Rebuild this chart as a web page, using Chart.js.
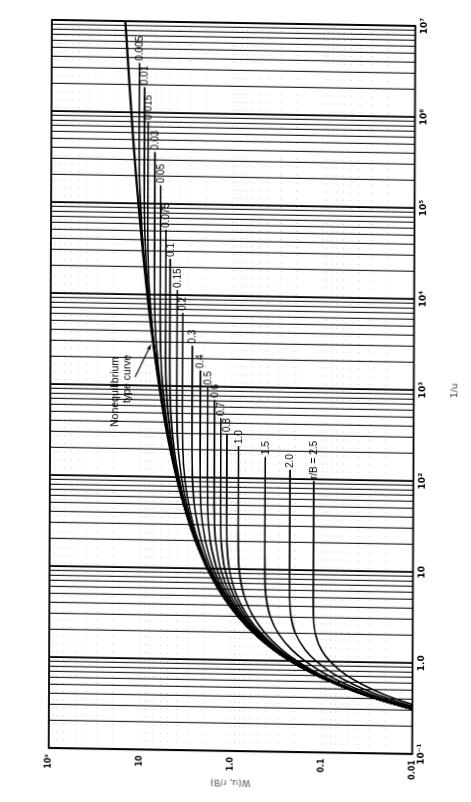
<!DOCTYPE html>
<html><head><meta charset="utf-8">
<script src="https://cdn.jsdelivr.net/npm/chart.js@4/dist/chart.umd.min.js"></script>
<style>
html,body{margin:0;padding:0;background:#fff;overflow:hidden;width:471px;height:802px;}
#wrap{position:absolute;left:0;top:0;width:802px;height:471px;transform-origin:0 0;
transform:skew(-0.25deg,0.95deg) translateY(802px) rotate(-90deg);background:#fff;}
canvas{display:block;}
</style></head><body>
<div id="wrap"><canvas id="c" width="802" height="471"></canvas></div>
<script>
// 1/u sample points
const invU = [0.3,0.4,0.5,0.667,0.8,1,1.333,2,3,5,10,20,30,50,100,200,500,1e3,2e3,5e3,1e4,2e4,5e4,1e5,2e5,5e5,1e6,2e6,5e6,1e7];
// Nonequilibrium (Theis) type curve W(u)
const theisW = [0.008573,0.024915,0.0489,0.10002,0.1464,0.2194,0.34034,0.5598,0.8292,1.2227,1.8229,2.4679,2.857,3.3547,4.0379,4.7261,5.6394,6.3315,7.0242,7.9402,8.6332,9.3263,10.2426,10.9357,11.6289,12.5451,13.2383,13.9314,14.8477,15.5409];
// Leaky W(u, r/B) curves
const w0005 = [0.008573,0.024915,0.0489,0.10002,0.1464,0.2194,0.34034,0.5598,0.8292,1.2227,1.8229,2.4679,2.857,3.3547,4.0373,4.725,5.636,6.325,7.012,7.909,8.572,9.205,9.953,10.396,10.682,10.818,10.828,10.829,null,null];
const w001 = [0.008573,0.024915,0.0489,0.10002,0.1464,0.2194,0.34034,0.5598,0.8292,1.2227,1.8229,2.4679,2.857,3.3536,4.0355,4.7212,5.627,6.307,6.975,7.819,8.398,8.883,9.296,9.418,9.441,9.4425,9.4425,null,null,null];
const w0015 = [0.008573,0.024915,0.0489,0.10002,0.1464,0.2194,0.34034,0.5598,0.8292,1.2227,1.8229,2.4679,2.857,3.352,4.0326,4.7151,5.6116,6.2768,6.9155,7.6781,8.1417,8.4533,8.6154,8.6314,8.632,8.632,null,null,null,null];
const w003 = [0.008573,0.024915,0.0489,0.10002,0.1464,0.2194,0.34034,0.5598,0.8289,1.2221,1.8213,2.4642,2.8511,3.3444,4.0165,4.6825,5.5314,6.1203,6.6219,7.0683,7.2123,7.2449,7.247,7.247,7.247,null,null,null,null,null];
const w005 = [0.008573,0.024915,0.0489,0.10002,0.1464,0.2192,0.3402,0.5594,0.8284,1.2209,1.8184,2.4576,2.8408,3.3262,3.9796,4.6084,5.3538,5.7966,6.0821,6.2174,6.2282,6.2285,6.2285,6.2285,null,null,null,null,null,null];
const w0075 = [0.00857,0.0249,0.04887,0.09995,0.14628,0.2192,0.33993,0.5589,0.8273,1.2187,1.8127,2.4448,2.8206,3.2917,3.9092,4.4713,5.0497,5.3076,5.4062,5.4227,5.4228,5.4228,5.4228,null,null,null,null,null,null,null];
const w01 = [0.00857,0.02489,0.04885,0.0999,0.1462,0.219,0.3396,0.5582,0.8259,1.2155,1.8049,2.4271,2.7929,3.2443,3.815,4.2959,4.7079,4.8292,4.853,4.8541,4.8541,4.8541,null,null,null,null,null,null,null,null];
const w015 = [0.00856,0.02487,0.0488,0.09975,0.14593,0.2186,0.3387,0.5561,0.8218,1.2067,1.7829,2.3776,2.7164,3.1158,3.5727,3.882,4.0435,4.0595,4.0601,4.0601,4.0601,null,null,null,null,null,null,null,null,null];
const w02 = [0.00855,0.02484,0.04871,0.09953,0.14557,0.2179,0.33746,0.5533,0.8161,1.1944,1.7527,2.311,2.615,2.9521,3.2875,3.4567,3.5042,3.5054,3.5054,3.5054,null,null,null,null,null,null,null,null,null,null];
const w03 = [0.008525,0.024737,0.04848,0.09893,0.14455,0.2161,0.3339,0.5453,0.8001,1.1603,1.6703,2.137,2.359,2.5687,2.7105,2.7428,2.7449,2.7449,2.7449,null,null,null,null,null,null,null,null,null,null,null];
const w04 = [0.008488,0.024598,0.04816,0.09809,0.14313,0.2135,0.32898,0.5344,0.7784,1.1146,1.5643,1.9284,2.0743,2.181,2.2254,2.2291,2.2291,2.2291,null,null,null,null,null,null,null,null,null,null,null,null];
const w05 = [0.00844,0.024425,0.04774,0.09702,0.14132,0.2103,0.32277,0.5206,0.7515,1.0593,1.4422,1.7075,1.7922,1.8378,1.8485,1.8488,1.8488,null,null,null,null,null,null,null,null,null,null,null,null,null];
const w06 = [0.008384,0.024213,0.04724,0.09573,0.13915,0.2065,0.31537,0.5044,0.7199,0.9963,1.3114,1.4927,1.5363,1.5529,1.555,1.555,1.555,null,null,null,null,null,null,null,null,null,null,null,null,null];
const w07 = [0.008317,0.023965,0.04666,0.09423,0.13662,0.202,0.30686,0.486,0.6849,0.9285,1.179,1.2954,1.3155,1.3207,1.321,1.321,null,null,null,null,null,null,null,null,null,null,null,null,null,null];
const w08 = [0.00824,0.02368,0.04599,0.09254,0.13377,0.197,0.29736,0.4658,0.647,0.8575,1.0505,1.121,1.1293,1.1307,1.1307,1.1307,null,null,null,null,null,null,null,null,null,null,null,null,null,null];
const w10 = [0.008058,0.023014,0.04444,0.08859,0.12719,0.1855,0.27576,0.421,0.5662,0.7148,0.819,0.8409,0.8419,0.842,0.842,0.842,null,null,null,null,null,null,null,null,null,null,null,null,null,null];
const w15 = [0.007459,0.020848,0.039448,0.07622,0.10691,0.1509,0.2138,0.3006,0.3682,0.4135,0.4271,0.4276,0.4276,0.4276,0.4276,null,null,null,null,null,null,null,null,null,null,null,null,null,null,null];
const w20 = [0.006695,0.018165,0.03343,0.06191,0.08417,0.1139,0.1515,0.1944,0.2179,0.2268,0.2278,0.2278,0.2278,0.2278,0.2278,null,null,null,null,null,null,null,null,null,null,null,null,null,null,null];
const w25 = [0.005831,0.015232,0.027075,0.04759,0.0623,0.0802,0.1002,0.1173,0.1235,0.1247,0.1247,0.1247,0.1247,0.1247,null,null,null,null,null,null,null,null,null,null,null,null,null,null,null,null];
// r/B curve labels and the 1/u where each curve stops (label starts)
const rBLabels = ['0.005','0.01','0.015','0.03','0.05','0.075','0.1','0.15','0.2','0.3','0.4','0.5','0.6','0.7','0.8','1.0','1.5','2.0','r/B = 2.5'];
const curveEnd = [3.5e6,1.9e6,7.9e5,3.7e5,1.6e5,5.2e4,2.5e4,1.14e4,6.4e3,2.8e3,1.5e3,990,716,455,304,225,173,126,96];
// tick labels at decades
const xDecadeLabels = ['10\u207B\u00B9','1.0','10','10\u00B2','10\u00B3','10\u2074','10\u2075','10\u2076','10\u2077'];
const yDecadeLabels = ['0.01','0.1','1.0','10','10\u00B2'];
// annotation
const noteLines = ['Nonequilibrium','type curve'];
const noteInvU = [347, 637];
const noteW = [19.4, 14.0];
const arrowFrom = [1236, 11.7];
const arrowTo = [2800, 7.9];

const leakyW = [w0005,w001,w0015,w003,w005,w0075,w01,w015,w02,w03,w04,w05,w06,w07,w08,w10,w15,w20,w25];

function seriesPoints(ws, end){
  const pts=[]; let last=null;
  invU.forEach((u,k)=>{ const w=ws[k]; if(w!=null && (end==null || u<end)){ pts.push({x:u,y:w}); last=w; } });
  if(end!=null) pts.push({x:end,y:last});
  return pts;
}
const datasets = [];
const asym = [];
leakyW.forEach((ws,i)=>{
  const pts = seriesPoints(ws, curveEnd[i]);
  asym.push(pts[pts.length-1].y);
  datasets.push({label:'r/B='+rBLabels[i], data:pts, borderColor:'#000', borderWidth:1.6, pointRadius:0, cubicInterpolationMode:'monotone', fill:false});
});
datasets.push({label:'Theis', data:seriesPoints(theisW,null), borderColor:'#000', borderWidth:2.3, pointRadius:0, cubicInterpolationMode:'monotone', fill:false});

const xTicks=[]; for(let n=-1;n<=6;n++){ for(let m=1;m<=9;m++) xTicks.push(m*Math.pow(10,n)); } xTicks.push(1e7);
const yTicks=[]; for(let n=-2;n<=1;n++){ for(let m=1;m<=9;m++) yTicks.push(m*Math.pow(10,n)); } yTicks.push(100);
function decadeIndex(v){ const l=Math.log10(v); return Math.abs(l-Math.round(l))<1e-6 ? Math.round(l) : null; }

const annot = {
  id:'annot',
  afterDatasetsDraw(chart){
    const {ctx, chartArea:a, scales:{x,y}} = chart;
    ctx.save();
    ctx.fillStyle='#000';
    ctx.font='10px "Liberation Sans", Arial, sans-serif';
    ctx.textAlign='left'; ctx.textBaseline='middle';
    rBLabels.forEach((t,i)=>{
      ctx.fillText(t, x.getPixelForValue(curveEnd[i])+2, y.getPixelForValue(asym[i])+0.5);
    });
    ctx.font='10.5px "Liberation Sans", Arial, sans-serif';
    noteLines.forEach((t,i)=>{ ctx.fillText(t, x.getPixelForValue(noteInvU[i]), y.getPixelForValue(noteW[i])); });
    const x1=x.getPixelForValue(arrowFrom[0]), y1=y.getPixelForValue(arrowFrom[1]);
    const x2=x.getPixelForValue(arrowTo[0]), y2=y.getPixelForValue(arrowTo[1]);
    ctx.strokeStyle='#000'; ctx.lineWidth=1.1;
    ctx.beginPath(); ctx.moveTo(x1,y1); ctx.lineTo(x2,y2); ctx.stroke();
    const ang=Math.atan2(y2-y1,x2-x1), h=5;
    ctx.beginPath(); ctx.moveTo(x2,y2);
    ctx.lineTo(x2-h*Math.cos(ang-0.4), y2-h*Math.sin(ang-0.4));
    ctx.lineTo(x2-h*Math.cos(ang+0.4), y2-h*Math.sin(ang+0.4));
    ctx.closePath(); ctx.fill();
    ctx.strokeStyle='#000'; ctx.lineWidth=1.8;
    ctx.strokeRect(a.left, a.top, a.right-a.left, a.bottom-a.top);
    ctx.restore();
  }
};

new Chart(document.getElementById('c'), {
  type:'line',
  data:{datasets},
  plugins:[annot],
  options:{
    responsive:false, animation:false, devicePixelRatio:1,
    layout:{padding:{left:0, top:52, right:19.1, bottom:0}},
    plugins:{legend:{display:false}, tooltip:{enabled:false}},
    scales:{
      x:{type:'logarithmic', min:0.1, max:1e7, position:'bottom',
        afterBuildTicks:s=>{ s.ticks = xTicks.map(v=>({value:v})); },
        afterFit:s=>{ s.height=55.5; },
        ticks:{autoSkip:false, maxRotation:0, minRotation:0, padding:4, color:'#000',
          font:{family:'"DejaVu Sans", sans-serif', size:9, weight:'bold'},
          callback:(v)=>{ const d=decadeIndex(v); return d===null ? '' : xDecadeLabels[d+1]; }},
        grid:{drawTicks:false,
          color:c=>{ const d=c.tick?decadeIndex(c.tick.value):null; return d===null?'#262626':'#000'; },
          lineWidth:c=>{ const d=c.tick?decadeIndex(c.tick.value):null; return d===null?1.2:1.8; }},
        border:{display:false},
        title:{display:true, text:'1/u', color:'#333', font:{family:'"DejaVu Sans", sans-serif', size:9}, padding:{top:0,bottom:9}}
      },
      y:{type:'logarithmic', min:0.01, max:100, position:'left',
        afterBuildTicks:s=>{ s.ticks = yTicks.map(v=>({value:v})); },
        afterFit:s=>{ s.width=54.8; },
        ticks:{autoSkip:false, padding:6, color:'#000',
          font:{family:'"DejaVu Sans", sans-serif', size:8, weight:'bold'},
          callback:(v)=>{ const d=decadeIndex(v); return d===null ? '' : yDecadeLabels[d+2]; }},
        grid:{drawTicks:false, color:'rgba(0,0,0,0.2)', lineWidth:1},
        border:{display:false, dash:[1,7]},
        title:{display:true, text:'W(u, r/B)', color:'#555', font:{family:'"DejaVu Sans", sans-serif', size:9}, padding:{top:18,bottom:0}}
      }
    }
  }
});
</script>
</body></html>
